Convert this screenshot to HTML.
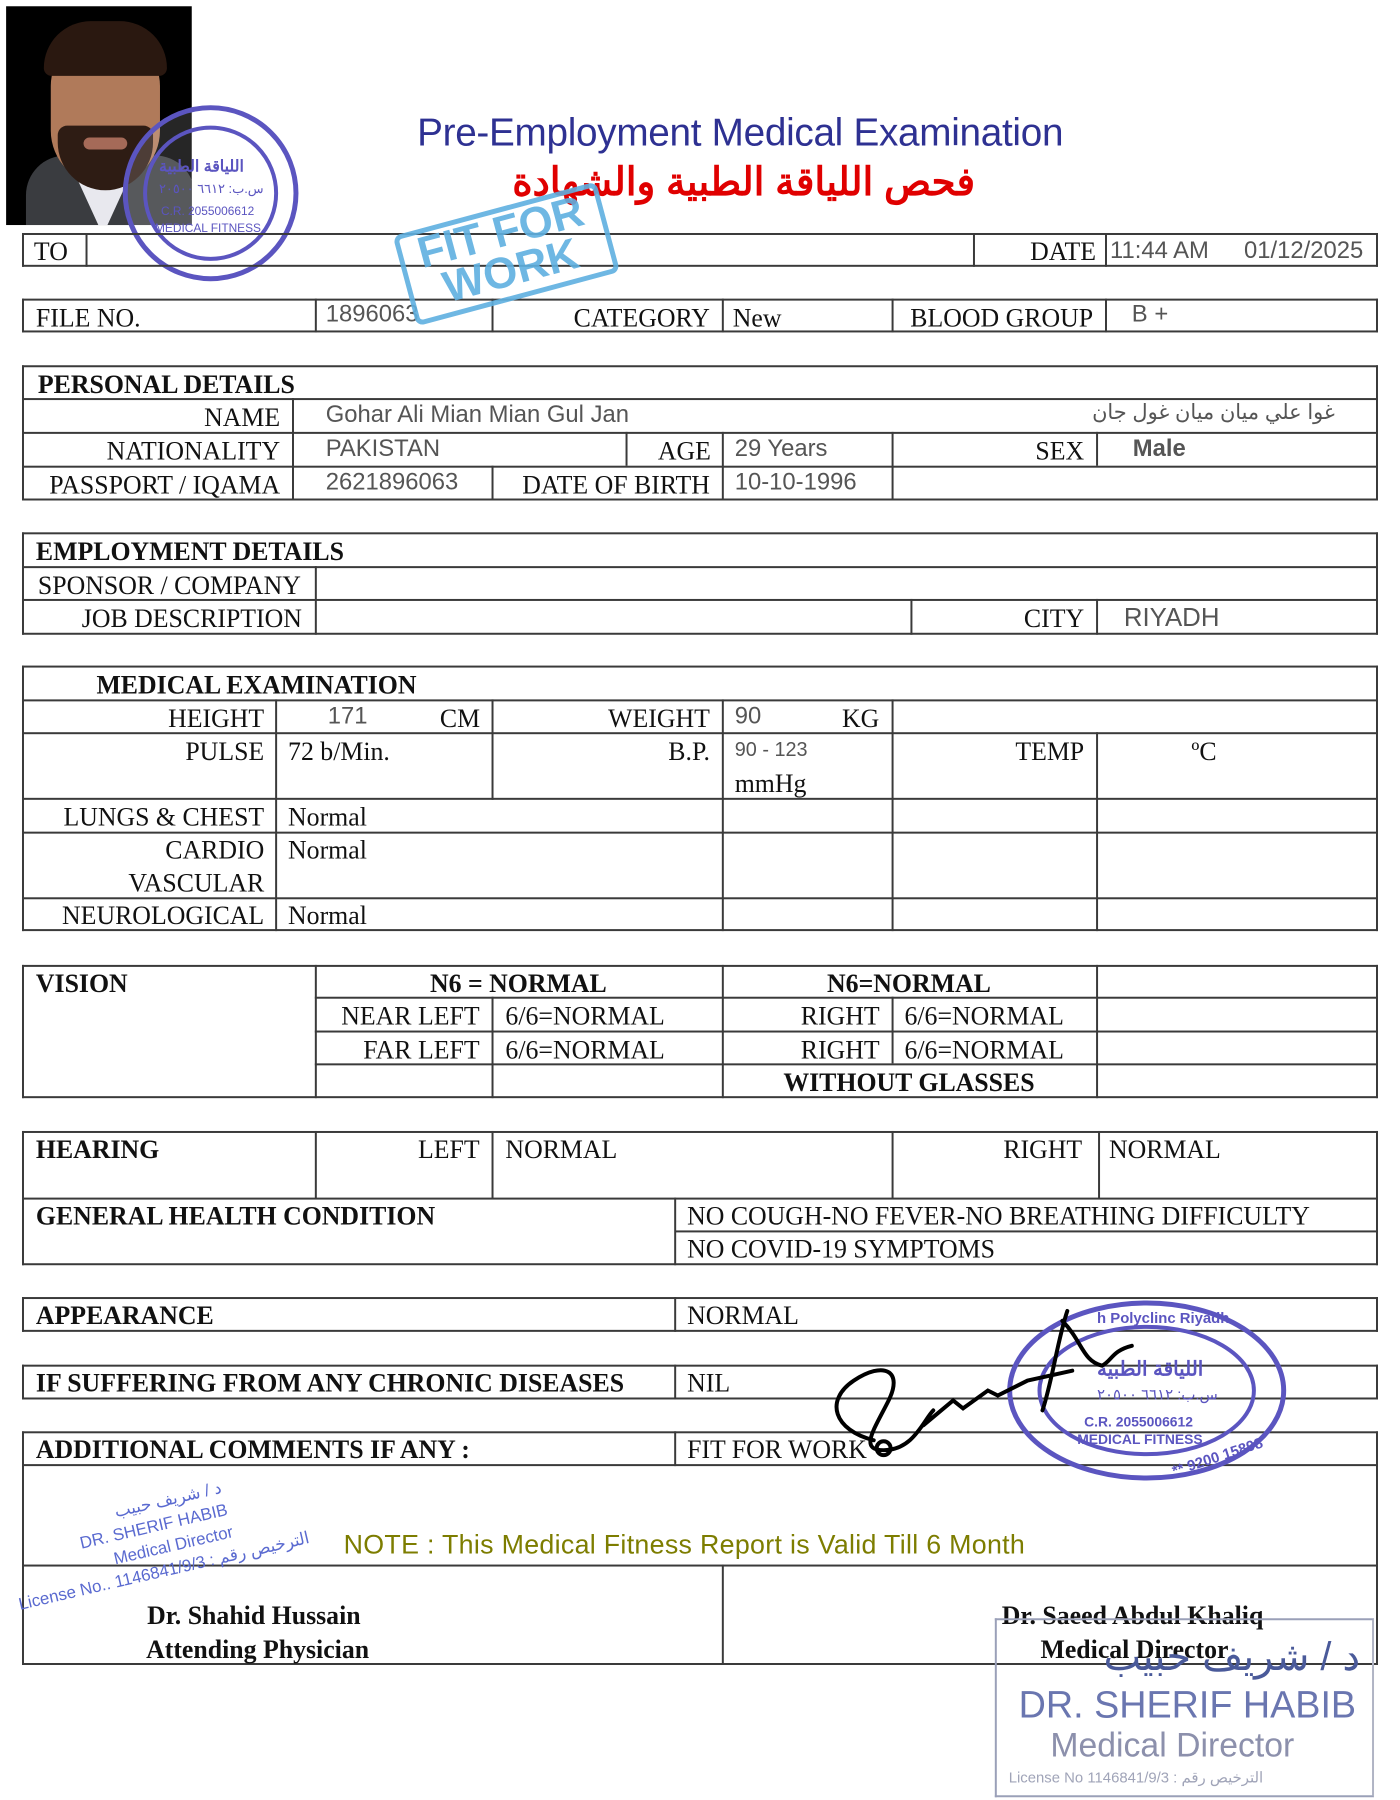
<!DOCTYPE html>
<html><head><meta charset="utf-8"><style>
*{margin:0;padding:0;box-sizing:border-box}
body{width:1400px;height:1800px;background:#fff;position:relative;overflow:hidden;font-family:"Liberation Serif",serif;color:#111}
#w{position:absolute;left:0;top:0;width:1400px;height:1800px;transform-origin:0 0;transform:translate(0.16px,-1.69px) scale(0.99267,0.99444)}
.h{position:absolute;height:2px;background:#3a3a3a}
.v{position:absolute;width:2px;background:#3a3a3a}
.t{position:absolute;font-size:26px;white-space:nowrap;line-height:1}
.r{text-align:right}
.b{font-weight:bold}
.s{font-family:"Liberation Sans",sans-serif;color:#555;font-size:24px}
.c{text-align:center}
</style></head><body><div id="w">

<!-- photo -->
<div style="position:absolute;left:6px;top:8px;width:187px;height:220px;background:#000;overflow:hidden">
  <div style="position:absolute;left:20px;top:150px;width:170px;height:90px;background:#3a3c40;border-radius:40px 40px 0 0"></div>
  <div style="position:absolute;left:70px;top:170px;width:55px;height:60px;background:#e8e8ee;clip-path:polygon(0 0,100% 0,50% 100%)"></div>
  <div style="position:absolute;left:45px;top:30px;width:110px;height:150px;background:#b07a5a;border-radius:50px 50px 55px 55px"></div>
  <div style="position:absolute;left:38px;top:15px;width:124px;height:55px;background:#2a1810;border-radius:60px 60px 10px 10px"></div>
  <div style="position:absolute;left:52px;top:120px;width:96px;height:65px;background:#2e1c14;border-radius:10px 10px 50px 50px"></div>
  <div style="position:absolute;left:78px;top:132px;width:44px;height:12px;background:#a56a58;border-radius:6px"></div>
</div>
<!-- photo stamp -->
<svg style="position:absolute;left:120px;top:104px" width="184" height="184">
  <circle cx="92" cy="92" r="86" fill="rgba(255,255,255,0.15)" stroke="#5b55c0" stroke-width="5"/>
  <circle cx="92" cy="92" r="66" fill="none" stroke="#5b55c0" stroke-width="4"/>
  <text x="40" y="70" font-family="Liberation Sans,sans-serif" font-size="16" fill="#5b55c0" font-weight="bold">اللياقة الطبية</text>
  <text x="40" y="92" font-family="Liberation Sans,sans-serif" font-size="13" fill="#5b55c0">س.ب: ٦٦١٢ ٢٠٥٠٠</text>
  <text x="42" y="114" font-family="Liberation Sans,sans-serif" font-size="12" fill="#5b55c0">C.R. 2055006612</text>
  <text x="36" y="131" font-family="Liberation Sans,sans-serif" font-size="12" fill="#5b55c0">MEDICAL FITNESS</text>
</svg>

<!-- titles -->
<div class="t" style="left:420px;top:116px;font-family:'Liberation Sans',sans-serif;font-size:39px;color:#2e3192;letter-spacing:-0.3px">Pre-Employment Medical Examination</div>
<div class="t" style="left:520px;top:166px;width:462px;font-family:'Liberation Sans','Noto Sans CJK SC',sans-serif;font-size:39px;color:#e00000;font-weight:bold;direction:rtl;text-align:center">فحص اللياقة الطبية والشهادة</div>

<!-- TO row -->
<div class="h" style="left:22px;top:236px;width:1366px"></div>
<div class="h" style="left:22px;top:268px;width:1366px"></div>
<div class="v" style="left:22px;top:236px;height:34px"></div>
<div class="v" style="left:86px;top:236px;height:34px"></div>
<div class="v" style="left:980px;top:236px;height:34px"></div>
<div class="v" style="left:1113px;top:236px;height:34px"></div>
<div class="v" style="left:1386px;top:236px;height:34px"></div>
<div class="t" style="left:34px;top:242px">TO</div>
<div class="t r" style="left:980px;width:124px;top:242px">DATE</div>
<div class="t s" style="left:1118px;top:242px">11:44 AM</div>
<div class="t s" style="left:1253px;top:242px">01/12/2025</div>

<!-- FILE row -->
<div class="h" style="left:22px;top:302px;width:1366px"></div>
<div class="h" style="left:22px;top:334px;width:1366px"></div>
<div class="v" style="left:22px;top:302px;height:34px"></div>
<div class="v" style="left:317px;top:302px;height:34px"></div>
<div class="v" style="left:495px;top:302px;height:34px"></div>
<div class="v" style="left:727px;top:302px;height:34px"></div>
<div class="v" style="left:898px;top:302px;height:34px"></div>
<div class="v" style="left:1113px;top:302px;height:34px"></div>
<div class="v" style="left:1386px;top:302px;height:34px"></div>
<div class="t" style="left:36px;top:309px">FILE NO.</div>
<div class="t s" style="left:328px;top:306px">1896063</div>
<div class="t r" style="left:495px;width:220px;top:309px">CATEGORY</div>
<div class="t" style="left:738px;top:309px">New</div>
<div class="t r" style="left:898px;width:203px;top:309px">BLOOD GROUP</div>
<div class="t s" style="left:1140px;top:306px">B +</div>

<!-- PERSONAL -->
<div class="h" style="left:22px;top:369px;width:1366px"></div>
<div class="h" style="left:22px;top:402px;width:1366px"></div>
<div class="h" style="left:22px;top:436px;width:1366px"></div>
<div class="h" style="left:22px;top:470px;width:1366px"></div>
<div class="h" style="left:22px;top:503px;width:1366px"></div>
<div class="v" style="left:22px;top:369px;height:136px"></div>
<div class="v" style="left:1386px;top:369px;height:136px"></div>
<div class="v" style="left:294px;top:402px;height:103px"></div>
<div class="v" style="left:630px;top:436px;height:34px"></div>
<div class="v" style="left:495px;top:470px;height:34px"></div>
<div class="v" style="left:727px;top:436px;height:69px"></div>
<div class="v" style="left:898px;top:436px;height:69px"></div>
<div class="v" style="left:1104px;top:436px;height:34px"></div>
<div class="t b" style="left:38px;top:376px">PERSONAL DETAILS</div>
<div class="t r" style="left:22px;width:260px;top:409px">NAME</div>
<div class="t s" style="left:328px;top:407px">Gohar Ali Mian Mian Gul Jan</div>
<div class="t s" style="left:1100px;width:270px;top:406px;font-size:21px;direction:rtl;text-align:left">غوا علي ميان ميان غول جان</div>
<div class="t r" style="left:22px;width:260px;top:443px">NATIONALITY</div>
<div class="t s" style="left:328px;top:441px">PAKISTAN</div>
<div class="t r" style="left:630px;width:86px;top:443px">AGE</div>
<div class="t s" style="left:740px;top:441px">29 Years</div>
<div class="t r" style="left:898px;width:194px;top:443px">SEX</div>
<div class="t s b" style="left:1141px;top:441px">Male</div>
<div class="t r" style="left:22px;width:260px;top:477px">PASSPORT / IQAMA</div>
<div class="t s" style="left:328px;top:475px">2621896063</div>
<div class="t r" style="left:495px;width:220px;top:477px">DATE OF BIRTH</div>
<div class="t s" style="left:740px;top:475px">10-10-1996</div>

<!-- EMPLOYMENT -->
<div class="h" style="left:22px;top:537px;width:1366px"></div>
<div class="h" style="left:22px;top:571px;width:1366px"></div>
<div class="h" style="left:22px;top:604px;width:1366px"></div>
<div class="h" style="left:22px;top:638px;width:1366px"></div>
<div class="v" style="left:22px;top:537px;height:103px"></div>
<div class="v" style="left:1386px;top:537px;height:103px"></div>
<div class="v" style="left:317px;top:571px;height:69px"></div>
<div class="v" style="left:917px;top:604px;height:36px"></div>
<div class="v" style="left:1104px;top:604px;height:36px"></div>
<div class="t b" style="left:36px;top:544px">EMPLOYMENT DETAILS</div>
<div class="t" style="left:38px;top:578px">SPONSOR / COMPANY</div>
<div class="t r" style="left:22px;width:282px;top:611px">JOB DESCRIPTION</div>
<div class="t r" style="left:917px;width:175px;top:611px">CITY</div>
<div class="t s" style="left:1132px;top:609px;font-size:26px">RIYADH</div>

<!-- MEDICAL -->
<div class="h" style="left:22px;top:671px;width:1366px"></div>
<div class="h" style="left:22px;top:705px;width:1366px"></div>
<div class="h" style="left:22px;top:738px;width:1366px"></div>
<div class="h" style="left:22px;top:804px;width:1366px"></div>
<div class="h" style="left:22px;top:838px;width:1366px"></div>
<div class="h" style="left:22px;top:904px;width:1366px"></div>
<div class="h" style="left:22px;top:936px;width:1366px"></div>
<div class="v" style="left:22px;top:671px;height:267px"></div>
<div class="v" style="left:1386px;top:671px;height:267px"></div>
<div class="v" style="left:277px;top:705px;height:233px"></div>
<div class="v" style="left:495px;top:705px;height:101px"></div>
<div class="v" style="left:727px;top:705px;height:233px"></div>
<div class="v" style="left:898px;top:705px;height:233px"></div>
<div class="v" style="left:1104px;top:738px;height:200px"></div>
<div class="t b" style="left:97px;top:678px">MEDICAL EXAMINATION</div>
<div class="t r" style="left:22px;width:244px;top:712px">HEIGHT</div>
<div class="t s" style="left:330px;top:710px">171</div>
<div class="t" style="left:443px;top:712px">CM</div>
<div class="t r" style="left:495px;width:220px;top:712px">WEIGHT</div>
<div class="t s" style="left:740px;top:710px">90</div>
<div class="t" style="left:848px;top:712px">KG</div>
<div class="t r" style="left:22px;width:244px;top:745px">PULSE</div>
<div class="t" style="left:290px;top:745px">72 b/Min.</div>
<div class="t r" style="left:495px;width:220px;top:745px">B.P.</div>
<div class="t s" style="left:740px;top:746px;font-size:20px">90 - 123</div>
<div class="t" style="left:740px;top:777px">mmHg</div>
<div class="t r" style="left:898px;width:194px;top:745px">TEMP</div>
<div class="t" style="left:1200px;top:745px">ºC</div>
<div class="t r" style="left:22px;width:244px;top:811px">LUNGS &amp; CHEST</div>
<div class="t" style="left:290px;top:811px">Normal</div>
<div class="t r" style="left:22px;width:244px;top:844px">CARDIO</div>
<div class="t r" style="left:22px;width:244px;top:877px">VASCULAR</div>
<div class="t" style="left:290px;top:844px">Normal</div>
<div class="t r" style="left:22px;width:244px;top:910px">NEUROLOGICAL</div>
<div class="t" style="left:290px;top:910px">Normal</div>

<!-- VISION -->
<div class="h" style="left:22px;top:972px;width:1366px"></div>
<div class="h" style="left:317px;top:1004px;width:1071px"></div>
<div class="h" style="left:317px;top:1038px;width:1071px"></div>
<div class="h" style="left:317px;top:1071px;width:1071px"></div>
<div class="h" style="left:22px;top:1104px;width:1366px"></div>
<div class="v" style="left:22px;top:972px;height:134px"></div>
<div class="v" style="left:1386px;top:972px;height:134px"></div>
<div class="v" style="left:317px;top:972px;height:134px"></div>
<div class="v" style="left:495px;top:1004px;height:102px"></div>
<div class="v" style="left:727px;top:972px;height:134px"></div>
<div class="v" style="left:898px;top:1004px;height:67px"></div>
<div class="v" style="left:1104px;top:972px;height:134px"></div>
<div class="t b" style="left:36px;top:978px">VISION</div>
<div class="t b c" style="left:317px;width:410px;top:978px">N6 = NORMAL</div>
<div class="t b c" style="left:727px;width:377px;top:978px">N6=NORMAL</div>
<div class="t r" style="left:317px;width:166px;top:1011px">NEAR LEFT</div>
<div class="t" style="left:509px;top:1011px">6/6=NORMAL</div>
<div class="t r" style="left:727px;width:159px;top:1011px">RIGHT</div>
<div class="t" style="left:911px;top:1011px">6/6=NORMAL</div>
<div class="t r" style="left:317px;width:166px;top:1045px">FAR LEFT</div>
<div class="t" style="left:509px;top:1045px">6/6=NORMAL</div>
<div class="t r" style="left:727px;width:159px;top:1045px">RIGHT</div>
<div class="t" style="left:911px;top:1045px">6/6=NORMAL</div>
<div class="t b c" style="left:727px;width:377px;top:1078px">WITHOUT GLASSES</div>

<!-- HEARING / GENERAL -->
<div class="h" style="left:22px;top:1139px;width:1366px"></div>
<div class="h" style="left:22px;top:1206px;width:1366px"></div>
<div class="h" style="left:680px;top:1239px;width:708px"></div>
<div class="h" style="left:22px;top:1272px;width:1366px"></div>
<div class="v" style="left:22px;top:1139px;height:135px"></div>
<div class="v" style="left:1386px;top:1139px;height:135px"></div>
<div class="v" style="left:317px;top:1139px;height:68px"></div>
<div class="v" style="left:495px;top:1139px;height:68px"></div>
<div class="v" style="left:898px;top:1139px;height:68px"></div>
<div class="v" style="left:1106px;top:1139px;height:68px"></div>
<div class="v" style="left:679px;top:1206px;height:68px"></div>
<div class="t b" style="left:36px;top:1145px">HEARING</div>
<div class="t r" style="left:317px;width:166px;top:1145px">LEFT</div>
<div class="t" style="left:509px;top:1145px">NORMAL</div>
<div class="t r" style="left:898px;width:192px;top:1145px">RIGHT</div>
<div class="t" style="left:1117px;top:1145px">NORMAL</div>
<div class="t b" style="left:36px;top:1212px">GENERAL HEALTH CONDITION</div>
<div class="t" style="left:692px;top:1212px">NO COUGH-NO FEVER-NO BREATHING DIFFICULTY</div>
<div class="t" style="left:692px;top:1245px">NO COVID-19 SYMPTOMS</div>

<!-- APPEARANCE -->
<div class="h" style="left:22px;top:1306px;width:1366px"></div>
<div class="h" style="left:22px;top:1339px;width:1366px"></div>
<div class="v" style="left:22px;top:1306px;height:35px"></div>
<div class="v" style="left:679px;top:1306px;height:35px"></div>
<div class="v" style="left:1386px;top:1306px;height:35px"></div>
<div class="t b" style="left:36px;top:1312px">APPEARANCE</div>
<div class="t" style="left:692px;top:1312px">NORMAL</div>

<!-- CHRONIC -->
<div class="h" style="left:22px;top:1374px;width:1366px"></div>
<div class="h" style="left:22px;top:1407px;width:1366px"></div>
<div class="v" style="left:22px;top:1374px;height:35px"></div>
<div class="v" style="left:679px;top:1374px;height:35px"></div>
<div class="v" style="left:1386px;top:1374px;height:35px"></div>
<div class="t b" style="left:36px;top:1380px">IF SUFFERING FROM ANY CHRONIC DISEASES</div>
<div class="t" style="left:692px;top:1380px">NIL</div>

<!-- ADDITIONAL -->
<div class="h" style="left:22px;top:1441px;width:1366px"></div>
<div class="h" style="left:22px;top:1474px;width:1366px"></div>
<div class="h" style="left:22px;top:1575px;width:1366px"></div>
<div class="h" style="left:22px;top:1674px;width:1366px"></div>
<div class="v" style="left:22px;top:1441px;height:235px"></div>
<div class="v" style="left:1386px;top:1441px;height:235px"></div>
<div class="v" style="left:679px;top:1441px;height:35px"></div>
<div class="v" style="left:727px;top:1575px;height:101px"></div>
<div class="t b" style="left:36px;top:1447px">ADDITIONAL COMMENTS IF ANY :</div>
<div class="t" style="left:692px;top:1447px">FIT FOR WORK</div>
<div class="t" style="left:346px;top:1542px;font-family:'Liberation Sans',sans-serif;font-size:27px;color:#7d7d00;letter-spacing:0.3px">NOTE : This Medical Fitness Report is Valid Till 6 Month</div>
<div class="t b" style="left:148px;top:1614px">Dr. Shahid Hussain</div>
<div class="t b" style="left:147px;top:1648px">Attending Physician</div>
<div class="t b" style="left:1009px;top:1614px">Dr. Saeed Abdul Khaliq</div>
<div class="t b" style="left:1048px;top:1648px">Medical Director</div>

<!-- left small stamp -->
<div style="position:absolute;left:30px;top:1530px;transform:rotate(-13deg);transform-origin:left top;font-family:'Liberation Sans',sans-serif;color:#5a6ad0;font-size:17px;line-height:23px;text-align:center;width:240px">
<div style="margin-left:40px">د / شريف حبيب</div>
<div>DR. SHERIF HABIB</div>
<div style="margin-left:30px">Medical Director</div>
<div style="margin-left:-40px;width:320px">License No.. 1146841/9/3 : الترخيص رقم</div>
</div>

<!-- bottom right stamp box -->
<div style="position:absolute;left:1002px;top:1629px;width:382px;height:180px;border:2px solid #9aa0b8;border-right-color:#b0b4c4"></div>
<div class="t" style="left:1020px;top:1648px;font-family:'Liberation Sans',sans-serif;font-size:40px;color:#4a5a9a;width:350px;text-align:right">د / شريف حبيب</div>
<div class="t" style="left:1026px;top:1698px;font-family:'Liberation Sans',sans-serif;font-size:38px;color:#6a76b0">DR. SHERIF HABIB</div>
<div class="t" style="left:1058px;top:1740px;font-family:'Liberation Sans',sans-serif;font-size:34px;color:#8c90ac">Medical Director</div>
<div class="t" style="left:1016px;top:1782px;font-family:'Liberation Sans',sans-serif;font-size:15px;color:#a0a4b8">License No 1146841/9/3 : الترخيص رقم</div>

<!-- round stamp bottom right -->
<svg style="position:absolute;left:1010px;top:1305px" width="290" height="190">
  <ellipse cx="145" cy="95" rx="138" ry="88" fill="none" stroke="#5b55c0" stroke-width="5"/>
  <ellipse cx="145" cy="95" rx="108" ry="64" fill="none" stroke="#5b55c0" stroke-width="4"/>
  <text x="95" y="27" font-family="Liberation Sans,sans-serif" font-size="15" font-weight="bold" fill="#5b55c0">h Polyclinc Riyadh</text>
  <text x="95" y="80" font-family="Liberation Sans,sans-serif" font-size="20" font-weight="bold" fill="#5b55c0">اللياقة الطبية</text>
  <text x="95" y="104" font-family="Liberation Sans,sans-serif" font-size="15" fill="#5b55c0">س.ب: ٦٦١٢ ٢٠٥٠٠</text>
  <text x="82" y="131" font-family="Liberation Sans,sans-serif" font-size="14" font-weight="bold" fill="#5b55c0">C.R. 2055006612</text>
  <text x="75" y="149" font-family="Liberation Sans,sans-serif" font-size="14" font-weight="bold" fill="#5b55c0">MEDICAL FITNESS</text>
  <text x="170" y="172" font-family="Liberation Sans,sans-serif" font-size="15" font-weight="bold" fill="#5b55c0" transform="rotate(-18 200 168)">** 9200 15898</text>
</svg>

<!-- signature -->
<svg style="position:absolute;left:820px;top:1310px" width="440" height="160">
  <path d="M60 140 C20 130 10 100 40 80 C70 60 90 70 75 100 C60 130 45 150 70 150 C100 150 110 120 120 110 M110 125 L140 100 L150 108 L175 90 L185 95 L215 80 M215 80 L260 70 M255 10 C245 40 240 80 230 110 M250 20 C270 40 270 60 290 65 C300 60 300 50 320 45" fill="none" stroke="#000" stroke-width="4" stroke-linecap="round"/>
  <circle cx="70" cy="148" r="7" fill="none" stroke="#000" stroke-width="4"/>
</svg>

<!-- FIT FOR WORK stamp -->
<div style="position:absolute;left:404px;top:210px;width:212px;height:94px;border:5px solid #5fb0e0;border-radius:8px;transform:rotate(-15deg);color:#5fb0e0;font-family:'Liberation Sans',sans-serif;font-weight:bold;text-align:center;line-height:40px;font-size:44px;opacity:0.9">FIT FOR<br>WORK</div>

</div></body></html>
